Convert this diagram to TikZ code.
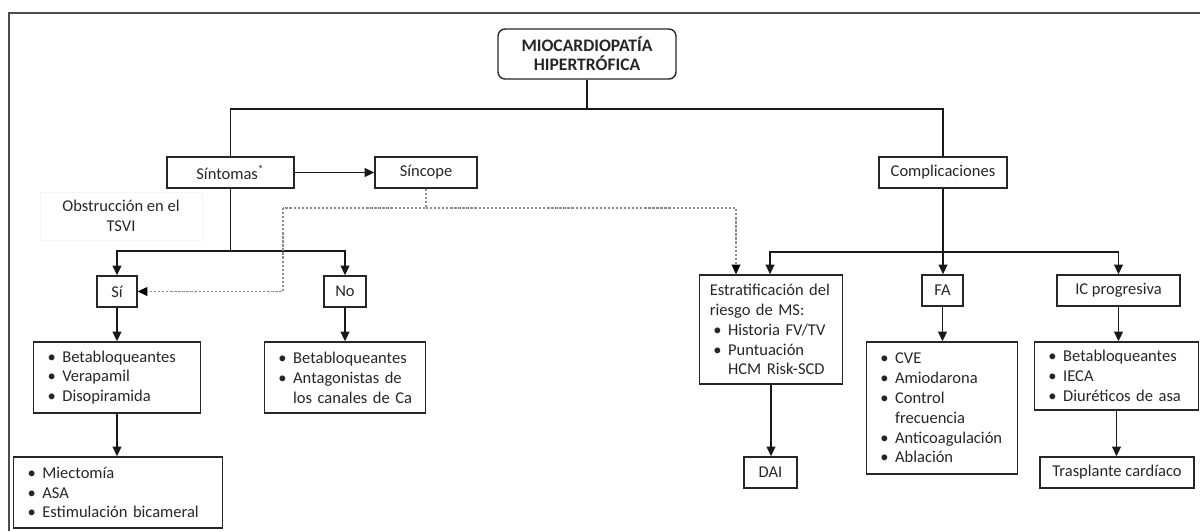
\documentclass[tikz,border=0pt]{standalone}
\usepackage{fontspec}
\setmainfont{Carlito}
\usetikzlibrary{arrows.meta}
\newcommand{\itm}{\hspace*{2pt}\makebox[8.4pt][l]{\textbullet}}
\newcommand{\cnt}{\hspace*{10.4pt}}

\begin{document}
\begin{tikzpicture}[x=0.02cm,y=-0.02cm,
  font=\fontsize{9.4pt}{11.3pt}\selectfont,text=black!85]
  \tikzstyle{box}=[draw=black!85,line width=0.8pt,inner sep=0pt,align=center]
  \tikzstyle{lst}=[draw=black!85,line width=0.8pt,inner xsep=6pt,inner ysep=0pt,align=left]
  \tikzstyle{con}=[line width=0.8pt,draw=black!90]
  \tikzstyle{arr}=[con,-{Triangle[length=5.5pt,width=5pt]}]
  \tikzstyle{dsh}=[draw=gray!90,line width=0.6pt,dash pattern=on 1.3pt off 1pt]
  \useasboundingbox (0,0) rectangle (1200,531);
  \draw[line width=0.8pt,draw=black!70] (9,531) -- (9,13) -- (1200,13);

  \node[box,rounded corners=4pt,minimum width=3.56cm,minimum height=1cm,font=\fontsize{10pt}{11pt}\selectfont\bfseries]
    (mch) at (587,54) {MIOCARDIOPATÍA\\HIPERTRÓFICA};
  \node[box,minimum width=2.54cm,minimum height=0.62cm] (sint) at (230.5,172.5) {Síntomas\textsuperscript{*}};
  \node[box,minimum width=2.04cm,minimum height=0.62cm] (sinc) at (426,172.5) {Síncope};
  \node[box,minimum width=2.56cm,minimum height=0.62cm] (comp) at (943,172.5) {Complicaciones};
  \node[draw=black!4,minimum width=3.24cm,minimum height=0.96cm,align=center] (obst) at (121,216) {Obstrucción en el\\TSVI};

  \node[box,minimum width=0.8cm,minimum height=0.62cm] (si) at (117,291.5) {Sí};
  \node[box,minimum width=0.84cm,minimum height=0.62cm] (no) at (345,291.5) {No};
  \node[lst,text width=83pt,minimum height=1.42cm] (silist) at (117,377.5)
    {\itm Betabloqueantes\\\itm Verapamil\\\itm Disopiramida};
  \node[lst,text width=79.8pt,minimum height=1.42cm] (nolist) at (345,377.5)
    {\itm Betabloqueantes\\\itm Antagonistas de\\\cnt los canales de Ca};
  \node[lst,text width=107pt,minimum height=1.42cm] (miect) at (118,492.5)
    {\itm Miectomía\\\itm ASA\\\itm Estimulación bicameral};

  \node[lst,text width=69.6pt,minimum height=2.18cm] (estr) at (771,329.5)
    {Estratificación del\\riesgo de MS:\\\itm Historia FV/TV\\\itm Puntuación\\\cnt HCM Risk-SCD};
  \node[box,minimum width=0.82cm,minimum height=0.62cm] (fa) at (942.5,290.5) {FA};
  \node[box,minimum width=2.46cm,minimum height=0.62cm] (ic) at (1118.5,290.5) {IC progresiva};
  \node[lst,text width=74.2pt,minimum height=2.64cm] (falist) at (942,408)
    {\itm CVE\\\itm Amiodarona\\\itm Control\\\cnt frecuencia\\\itm Anticoagulación\\\itm Ablación};
  \node[lst,text width=81.5pt,minimum height=1.36cm] (iclist) at (1116.5,376)
    {\itm Betabloqueantes\\\itm IECA\\\itm Diuréticos de asa};
  \node[box,minimum width=1.06cm,minimum height=0.62cm] (dai) at (770.5,472.5) {DAI};
  \node[box,minimum width=3.08cm,minimum height=0.62cm] (trasp) at (1117,472.5) {Trasplante cardíaco};

  \coordinate (bar) at (587,109);
  \coordinate (sbar) at (230.5,251);
  \coordinate (cbar) at (943,252);
  \coordinate (dj) at (426,208);
  \coordinate (dl) at (283,208);
  \coordinate (dr) at (736,208);

  \draw[con] (mch.south) -- (bar);
  \draw[con] (sint.north) |- (bar) -| (comp.north);
  \draw[arr] (sint.east) -- (sinc.west);
  \draw[con] (sint.south) -- (sbar);
  \draw[arr] (sbar) -| (si.north);
  \draw[arr] (sbar) -| (no.north);
  \draw[arr] (si.south) -- (silist.north);
  \draw[arr] (no.south) -- (nolist.north);
  \draw[arr] (silist.south) -- (silist.south |- miect.north);

  \draw[dsh] (sinc.south) -- (dj) -- (dl);
  \draw[dsh,-{Triangle[length=5.5pt,width=5pt,color=black]}] (dl) |- (si.east);
  \draw[dsh,-{Triangle[length=5.5pt,width=5pt,color=black]}] (dj) -| (dr |- estr.north);

  \draw[arr] (comp.south) -- (comp.south |- fa.north);
  \draw[arr] (cbar) -| ([xshift=-0.02cm]estr.north);
  \draw[arr] (cbar) -| (ic.north);
  \draw[arr] (fa.south) -- (fa.south |- falist.north);
  \draw[arr] (ic.south) -- (ic.south |- iclist.north);
  \draw[arr] (estr.south) -- (estr.south |- dai.north);
  \draw[arr] (iclist.south) -- (iclist.south |- trasp.north);
\end{tikzpicture}
\end{document}
